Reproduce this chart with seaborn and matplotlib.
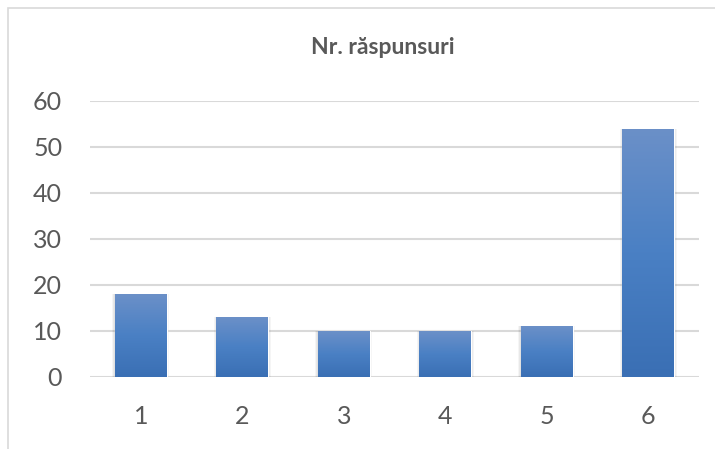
import numpy as np
import pandas as pd
import matplotlib
matplotlib.use("Agg")
import matplotlib.pyplot as plt
import seaborn as sns
from matplotlib.colors import LinearSegmentedColormap
from matplotlib.patches import Rectangle

categories = ["1", "2", "3", "4", "5", "6"]
responses = [18, 13, 10, 10, 11, 54]
y_ticks = [0, 10, 20, 30, 40, 50, 60]

df = pd.DataFrame({"cat": categories, "n": responses})

sns.set_style("white")
plt.rcParams["font.family"] = ["Lato", "DejaVu Sans"]

W, H = 715, 449
fig = plt.figure(figsize=(W / 100, H / 100), dpi=100)
ax = fig.add_axes([90 / W, 1 - 377 / H, 609 / W, 276 / H])

sns.barplot(data=df, x="cat", y="n", ax=ax, color="#4a7ebb", width=0.51, zorder=3)

# gradient fill + soft shadow for each bar
cmap = LinearSegmentedColormap.from_list("g", ["#3a6fb4", "#4a80c4", "#6b90c8"])
grad = np.linspace(0, 1, 256).reshape(-1, 1)
for p in ax.patches:
    x0, w, h = p.get_x(), p.get_width(), p.get_height()
    for i, a in enumerate([0.06, 0.05, 0.04]):
        d = 0.008 * (i + 1)
        ax.add_patch(Rectangle((x0 - d, -0.3 * (i + 1)), w + 2 * d, h + 0.3 * (i + 1),
                               color="black", alpha=a, lw=0, zorder=2))
    im = ax.imshow(grad, extent=[x0, x0 + w, 0, h], origin="lower", aspect="auto",
                   cmap=cmap, zorder=4)
    im.set_clip_path(p)
    p.set_facecolor("none")

ax.set_xlim(-0.5, 5.5)
ax.set_ylim(0, 60)
ax.set_yticks(y_ticks)
ax.yaxis.grid(True, color="#d9d9d9", lw=1.5, zorder=0)
ax.set_axisbelow(True)
for s in ax.spines.values():
    s.set_visible(False)
ax.set_xlabel("")
ax.set_ylabel("")
ax.tick_params(axis="both", length=0, labelsize=18, colors="#595959")
ax.tick_params(axis="x", pad=20)
ax.tick_params(axis="y", pad=20)

fig.text(383 / W, 1 - 47 / H, "Nr. răspunsuri", ha="center", va="center",
         fontsize=16.5, fontweight="bold", color="#595959")

fig.patches.append(Rectangle((8 / W, -0.1), 1.1, 1 - 8 / H + 0.1, transform=fig.transFigure,
                             fill=False, edgecolor="#d9d9d9", lw=1.2))

fig.savefig("out.png", dpi=100)
